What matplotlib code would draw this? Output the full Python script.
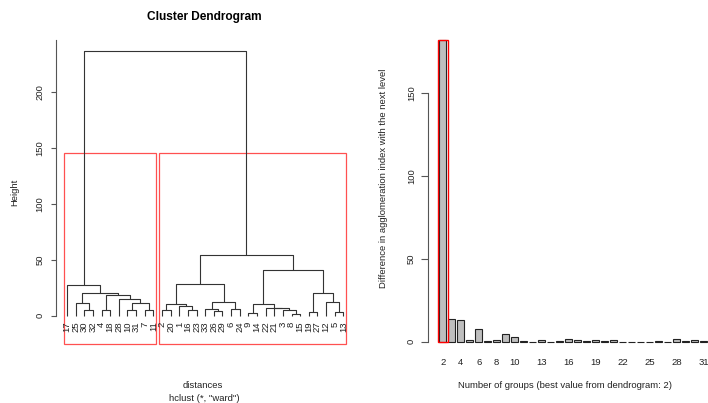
import matplotlib
matplotlib.use("Agg")
import matplotlib.pyplot as plt
from matplotlib.patches import Rectangle

plt.rcParams['font.family'] = ['Liberation Sans', 'DejaVu Sans']

#dendrogram data (leaf order left to right, merges R style: negative = leaf, positive = earlier merge)
leafOrder = [17, 25, 30, 32, 4, 18, 28, 10, 31, 7, 11,
             2, 20, 1, 16, 23, 33, 26, 29, 6, 24, 9, 14, 22, 21, 3, 8, 15, 19, 27, 12, 5, 13]
mergeA = [-30, -4, -10, -7, -25, 3, -28, 2, 5, -17,
          -2, -16, -1, 11, -26, -33, -6, 16, 14,
          -9, -8, -3, -21, -22, 20, -19, -5, -12, 26, 25, 19, 10]
mergeB = [-32, -18, -31, -11, 1, 4, 6, 7, 8, 9,
          -20, -23, 12, 13, -29, 15, -24, 17, 18,
          -14, -15, 21, 22, 23, 24, -27, -13, 27, 28, 29, 30, 31]
mergeHeight = [5.4, 5.2, 5.3, 5.5, 11.3, 11.5, 14.9, 18.7, 20.6, 27.5,
               5.4, 4.7, 8.3, 10.4, 3.9, 6.0, 6.0, 12.2, 28.3,
               2.5, 1.5, 4.7, 6.5, 6.9, 10.7, 3.5, 3.0, 12.2, 20.0, 41.0, 54.5, 236.3]
nGroups = 2

#bar chart data: difference in agglomeration index, groups 2..31
groups = list(range(2, 32))
diffIndex = [182, 13.5, 13.3, 0.8, 7.4, 0.2, 1.2, 4.6, 2.8, 0.2,
             0.1, 0.9, 0.1, 0.2, 1.8, 1.2, 0.2, 0.9, 0.2, 1.2,
             0.1, 0.1, 0.1, 0.1, 0.2, 0.1, 1.6, 0.3, 1.0, 0.2]
groupTicks = [2, 4, 6, 8, 10, 13, 16, 19, 22, 25, 28, 31]

W, H = 708, 403
lineCol = '#333333'
textCol = '#222222'
fig = plt.figure(figsize=(W / 100, H / 100), dpi=100)

# ---------------- dendrogram ----------------
ax1 = fig.add_axes([56 / W, 1 - 344 / H, (354.4 - 56) / W, (344 - 40) / H])
leafX = {lab: i + 1 for i, lab in enumerate(leafOrder)}
nodes = []  # (x, height, size)

def node(ref):
    if ref < 0:
        return leafX[-ref], 0.0, 1
    return nodes[ref - 1]

for a, b, h in zip(mergeA, mergeB, mergeHeight):
    xa, ha, sa = node(a)
    xb, hb, sb = node(b)
    ax1.plot([xa, xa, xb, xb], [ha, h, h, hb], color=lineCol, lw=0.8, solid_capstyle='butt')
    nodes.append(((xa + xb) / 2, h, sa + sb))

for lab, x in leafX.items():
    ax1.text(x, -5.0, str(lab), rotation=90, ha='center', va='top', fontsize=6.8, color=textCol)

ax1.set_xlim(-0.28, 34.28)
ax1.set_ylim(-25.3, 246.5)

# rect.hclust style boxes for the 2 groups
cutHeight = (mergeHeight[-1] + mergeHeight[-2]) / 2
sizes = [node(mergeA[-1])[2], node(mergeB[-1])[2]]
start = 0
for s in sizes:
    ax1.add_patch(Rectangle((start + 0.66, -25.3), s - 0.33, cutHeight + 25.3,
                            fill=False, edgecolor='#ff5050', lw=0.9, clip_on=False))
    start += s

for sp in ['top', 'right', 'bottom']:
    ax1.spines[sp].set_visible(False)
ax1.spines['left'].set_color('#555555')
ax1.spines['left'].set_linewidth(0.8)
ax1.spines['left'].set_bounds(0, 246.5)
ax1.set_xticks([])
ax1.set_yticks([0, 50, 100, 150, 200])
ax1.set_yticklabels(['0', '50', '100', '150', '200'], rotation=90, va='center', fontsize=6.8, color=textCol)
ax1.tick_params(axis='y', length=3.6, width=0.8, color='#555555', pad=4.5)

fig.text(204.7 / W, 1 - 17.3 / H, 'Cluster Dendrogram', ha='center', va='center',
         fontsize=8.6, fontweight='bold', color='black')
fig.text(15 / W, 1 - 192 / H, 'Height', rotation=90, ha='center', va='center', fontsize=6.8, color=textCol)
fig.text(203 / W, 1 - 386 / H, 'distances', ha='center', va='center', fontsize=6.8, color=textCol)
fig.text(204 / W, 1 - 398.5 / H, 'hclust (*, "ward")', ha='center', va='center', fontsize=6.8, color=textCol)

# ---------------- bar chart ----------------
ax2 = fig.add_axes([428.3 / W, 1 - 353.8 / H, (708 - 428.3) / W, (353.8 - 27.8) / H])
ax2.bar(groups, diffIndex, width=1 / 1.2, color='#bebebe', edgecolor='#222222', linewidth=0.8)
best = groups[0] if nGroups == groups[0] else nGroups
ax2.add_patch(Rectangle((best - 0.556, 0), 1.112, diffIndex[groups.index(best)],
                        fill=False, edgecolor='red', lw=1.0))
ax2.set_xlim(0.398, 31.51)
ax2.set_ylim(-7.28, 189.3)

for sp in ['top', 'right', 'bottom']:
    ax2.spines[sp].set_visible(False)
ax2.spines['left'].set_color('#555555')
ax2.spines['left'].set_linewidth(0.8)
ax2.spines['left'].set_bounds(0, 150)
ax2.set_yticks([0, 50, 100, 150])
ax2.set_yticklabels(['0', '50', '100', '150'], rotation=90, va='center', fontsize=6.8, color=textCol)
ax2.tick_params(axis='y', length=4.8, width=0.8, color='#555555', pad=4)
ax2.set_xticks(groupTicks)
ax2.set_xticklabels([str(g) for g in groupTicks], fontsize=6.8, color=textCol)
ax2.tick_params(axis='x', length=0, pad=3)

fig.text(383 / W, 1 - 178 / H, 'Difference in agglomeration index with the next level',
         rotation=90, ha='center', va='center', fontsize=6.8, color=textCol)
fig.text(565.5 / W, 1 - 385 / H, 'Number of groups (best value from dendrogram: 2)',
         ha='center', va='center', fontsize=6.8, color=textCol)

fig.savefig('out.png', dpi=100)
